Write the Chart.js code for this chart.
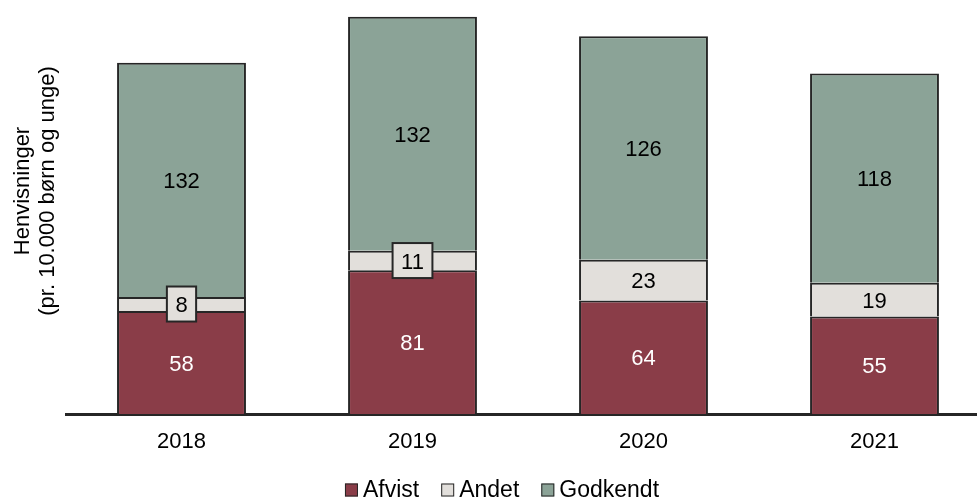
<!DOCTYPE html>
<html lang="da">
<head>
<meta charset="utf-8">
<title>Henvisninger</title>
<script src="https://cdn.jsdelivr.net/npm/chart.js@4.4.1/dist/chart.umd.min.js"></script>
<style>
  html, body { margin: 0; padding: 0; background: #fff; overflow: hidden; }
  #wrap { position: absolute; left: 0; top: 0; width: 995px; height: 499px; }
</style>
</head>
<body>
<div id="wrap"><canvas id="chart"></canvas></div>
<script>
const years = ["2018", "2019", "2020", "2021"];
const afvist = [58, 81, 64, 55];
const andet = [8, 11, 23, 19];
const godkendt = [132, 132, 126, 118];
const yTitle = ["Henvisninger", "(pr. 10.000 børn og unge)"];

const colors = {
  afvist: "#8a3d48",
  andet: "#e2dfdb",
  godkendt: "#8ba397",
  edge: "#262626",
};

const font = "'Liberation Sans', Arial, sans-serif";

// value labels in the middle of each segment; thin segments get a boxed label
const segmentLabels = {
  id: "segmentLabels",
  afterDatasetsDraw(chart) {
    const ctx = chart.ctx;
    ctx.save();
    ctx.font = `22px ${font}`;
    ctx.textAlign = "center";
    ctx.textBaseline = "middle";
    chart.data.datasets.forEach((ds, i) => {
      chart.getDatasetMeta(i).data.forEach((bar, j) => {
        const { x, y, base } = bar.getProps(["x", "y", "base"], true);
        const cy = (y + base) / 2;
        const text = String(ds.data[j]);
        if (Math.abs(base - y) < 25) {
          const w = ctx.measureText(text).width + 17;
          const h = 35;
          ctx.fillStyle = ds.backgroundColor;
          ctx.fillRect(x - w / 2, cy - h / 2, w, h);
          ctx.lineWidth = 2;
          ctx.strokeStyle = colors.edge;
          ctx.strokeRect(x - w / 2, cy - h / 2, w, h);
        }
        ctx.fillStyle = i === 0 ? "#ffffff" : "#000000";
        ctx.fillText(text, x, cy + 2);
      });
    });
    ctx.restore();
  },
};

// two-line rotated y axis title
const axisTitle = {
  id: "axisTitle",
  afterDraw(chart) {
    const ctx = chart.ctx;
    ctx.save();
    ctx.font = `22px ${font}`;
    ctx.fillStyle = "#000";
    ctx.textAlign = "center";
    ctx.textBaseline = "middle";
    ctx.translate(35, 191);
    ctx.rotate(-Math.PI / 2);
    ctx.fillText(yTitle[0], 0, -12);
    ctx.fillText(yTitle[1], 0, 13);
    ctx.restore();
  },
};

// legend row under the axis: small square, then the series name
const legendRow = {
  id: "legendRow",
  afterDraw(chart) {
    const ctx = chart.ctx;
    const box = 13;
    const gap = 5;
    const spacing = 22;
    ctx.save();
    ctx.font = `23px ${font}`;
    ctx.textBaseline = "middle";
    const items = chart.data.datasets.map((ds) => ({
      label: ds.label,
      color: ds.backgroundColor,
      width: box + gap + ctx.measureText(ds.label).width,
    }));
    const total = items.reduce((sum, it) => sum + it.width, 0) + spacing * (items.length - 1);
    let x = 502 - total / 2;
    const cy = 490;
    items.forEach((it) => {
      ctx.fillStyle = it.color;
      ctx.fillRect(x, cy - box / 2, box, box);
      ctx.lineWidth = 1;
      ctx.strokeStyle = colors.edge;
      ctx.strokeRect(x + 0.5, cy - box / 2 + 0.5, box - 1, box - 1);
      ctx.fillStyle = "#000";
      ctx.fillText(it.label, x + box + gap, cy + 1);
      x += it.width + spacing;
    });
    ctx.restore();
  },
};

function dataset(label, data, color) {
  return {
    label,
    data,
    backgroundColor: color,
    borderColor: colors.edge,
    borderWidth: 2,
    borderSkipped: "start",
    categoryPercentage: 1,
    barPercentage: 0.558,
  };
}

new Chart(document.getElementById("chart"), {
  type: "bar",
  data: {
    labels: years,
    datasets: [
      dataset("Afvist", afvist, colors.afvist),
      dataset("Andet", andet, colors.andet),
      dataset("Godkendt", godkendt, colors.godkendt),
    ],
  },
  options: {
    responsive: true,
    maintainAspectRatio: false,
    animation: false,
    layout: { padding: { left: 66, right: 5, top: 6, bottom: 0 } },
    plugins: {
      tooltip: { enabled: false },
      legend: { display: false },
    },
    scales: {
      x: {
        stacked: true,
        grid: { display: false },
        border: { color: colors.edge, width: 3 },
        ticks: { color: "#000", font: { family: font, size: 22 }, padding: 7 },
        afterFit(scale) {
          scale.height = 85;
        },
      },
      y: {
        stacked: true,
        display: false,
        min: 0,
        max: 230,
      },
    },
  },
  plugins: [segmentLabels, axisTitle, legendRow],
});
</script>
</body>
</html>
